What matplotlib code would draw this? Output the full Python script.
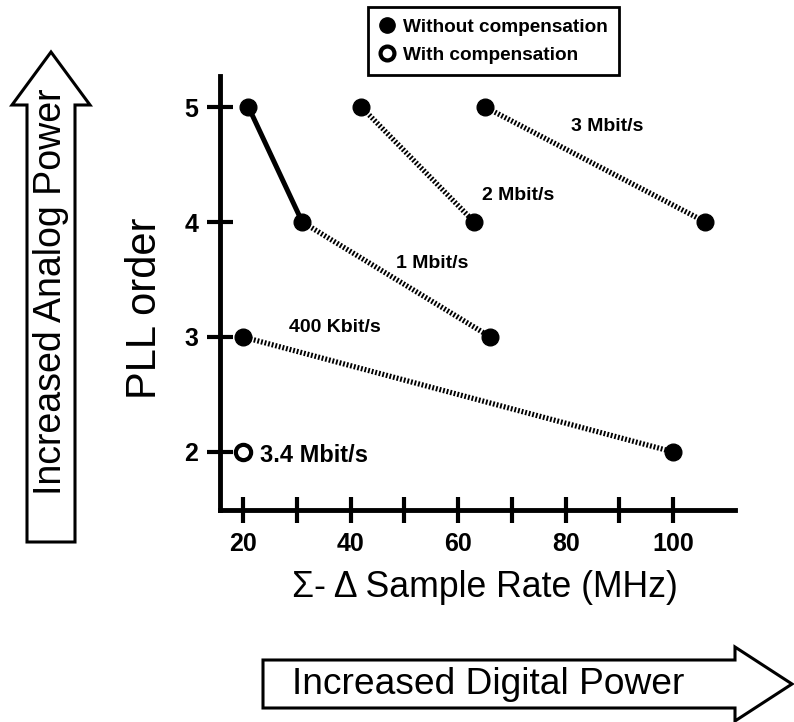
import matplotlib
matplotlib.use("Agg")
import matplotlib.pyplot as plt
from matplotlib.lines import Line2D
from matplotlib.patches import Polygon

plt.rcParams["font.family"] = ["Liberation Sans", "DejaVu Sans"]

# PLL order vs sigma-delta sample rate, one curve per data rate
kbit400_x = [20, 100]
kbit400_y = [3, 2]
mbit1_x = [21, 31, 66]
mbit1_y = [5, 4, 3]
mbit2_x = [42, 63]
mbit2_y = [5, 4]
mbit3_x = [65, 106]
mbit3_y = [5, 4]
comp_x = [20]
comp_y = [2]

x_ticks = [20, 30, 40, 50, 60, 70, 80, 90, 100]
x_labels = ["20", "", "40", "", "60", "", "80", "", "100"]
y_ticks = [2, 3, 4, 5]

W, H = 794, 722
fig = plt.figure(figsize=(W / 100, H / 100), dpi=100)
ax = fig.add_axes([220 / W, 1 - 510 / H, 515 / W, 434 / H])

dot = dict(color="black", lw=3.8, ls=(0, (0.35, 0.35)), solid_capstyle="butt")
mk = dict(marker="o", ms=12, mfc="black", mec="black", ls="none")

ax.plot(kbit400_x, kbit400_y, **dot)
ax.plot(mbit1_x[:2], mbit1_y[:2], color="black", lw=3.6)
ax.plot(mbit1_x[1:], mbit1_y[1:], **dot)
ax.plot(mbit2_x, mbit2_y, **dot)
ax.plot(mbit3_x, mbit3_y, **dot)
for xs, ys in [(kbit400_x, kbit400_y), (mbit1_x, mbit1_y),
               (mbit2_x, mbit2_y), (mbit3_x, mbit3_y)]:
    ax.plot(xs, ys, **mk, zorder=3)
ax.plot(comp_x, comp_y, marker="o", ms=11, mfc="white", mec="black",
        mew=3, ls="none", zorder=3)

lab = dict(fontsize=14, fontweight="bold", ha="center", va="center")
ax.text(87.7, 4.83, "3 Mbit/s", **lab)
ax.text(71.2, 4.23, "2 Mbit/s", **lab)
ax.text(55.2, 3.64, "1 Mbit/s", **lab)
ax.text(37.1, 3.08, "400 Kbit/s", **lab)
ax.text(23.2, 1.97, "3.4 Mbit/s", fontsize=17, fontweight="bold",
        ha="left", va="center")

ax.set_xlim(15.7, 111.5)
ax.set_ylim(1.495, 5.27)
ax.set_xticks(x_ticks)
ax.set_xticklabels(x_labels)
ax.set_yticks(y_ticks)
for s in ["top", "right"]:
    ax.spines[s].set_visible(False)
for s in ["left", "bottom"]:
    ax.spines[s].set_linewidth(3.5)
ax.tick_params(direction="inout", length=19, width=3, labelsize=18, pad=6)
for t in ax.get_xticklabels() + ax.get_yticklabels():
    t.set_fontweight("bold")

ax.set_xlabel("\u03a3- \u0394 Sample Rate (MHz)", fontsize=25.7)
ax.xaxis.set_label_coords(0.514, -0.138)
ax.set_ylabel("PLL order", fontsize=30)
ax.yaxis.set_label_coords(-0.106, 0.465)

handles = [
    Line2D([], [], marker="o", ms=11, mfc="black", mec="black", ls="none"),
    Line2D([], [], marker="o", ms=10, mfc="white", mec="black", mew=3,
           ls="none"),
]
leg = fig.legend(handles, ["Without compensation", "With compensation"],
                 loc="upper left", bbox_to_anchor=(368 / W, 1 - 7 / H),
                 prop=dict(size=13.7, weight="bold"), handlelength=0.8,
                 handletextpad=0.45, borderpad=0.6, labelspacing=0.55,
                 fancybox=False, edgecolor="black", framealpha=1,
                 borderaxespad=0)
leg.get_frame().set_linewidth(2)


def fig_poly(pts):
    xy = [(x / W, 1 - y / H) for x, y in pts]
    fig.add_artist(Polygon(xy, closed=True, facecolor="white",
                           edgecolor="black", lw=2.2,
                           transform=fig.transFigure))


# vertical arrow (analog power)
fig_poly([(27, 542), (75, 542), (75, 105), (90, 105), (51, 52),
          (12, 105), (27, 105)])
fig.text(51 / W, 1 - 292 / H, "Increased Analog Power", rotation=90,
         fontsize=27, ha="center", va="center")

# horizontal arrow (digital power)
fig_poly([(263, 660), (735, 660), (735, 647), (792, 684), (735, 721),
          (735, 708), (263, 708)])
fig.text(488 / W, 1 - 684 / H, "Increased Digital Power", fontsize=26.7,
         ha="center", va="center")

fig.savefig("out.png", dpi=100)
